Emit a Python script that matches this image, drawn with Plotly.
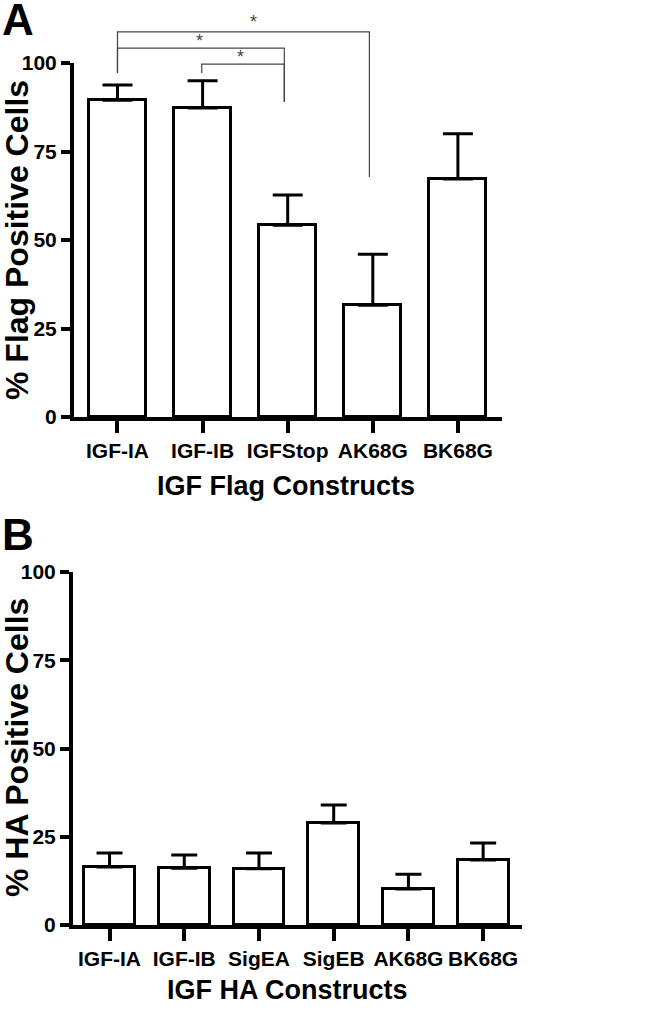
import plotly.graph_objects as go

# Panel A - Flag constructs
flag_labels = ["IGF-IA", "IGF-IB", "IGFStop", "AK68G", "BK68G"]
flag_means = [89.5, 87.3, 54.2, 31.6, 67.2]
flag_err = [4.3, 7.7, 8.5, 14.4, 12.8]

# Panel B - HA constructs
ha_labels = ["IGF-IA", "IGF-IB", "SigEA", "SigEB", "AK68G", "BK68G"]
ha_means = [16.4, 16.1, 15.9, 28.9, 10.2, 18.4]
ha_err = [4.0, 3.7, 4.5, 5.1, 4.2, 4.8]

# significance brackets on panel A (x in category units)
brackets = [
    {"x": [0, 0, 2.96, 2.96], "y": [97.2, 108.8, 108.8, 67.8], "star": (1.6, 111.6)},
    {"x": [0, 0, 1.96, 1.96], "y": [97.2, 104.2, 104.2, 89.0], "star": (0.96, 106.3)},
    {"x": [0.99, 0.99, 1.96, 1.96], "y": [97.2, 99.7, 99.7, 89.0], "star": (1.44, 101.8)},
]

W, H = 650, 1009
FONT = "Liberation Sans, Arial, sans-serif"

# plot areas in pixels
a_x0, a_x1, a_top, a_bot = 74, 502, 63, 417
b_x0, b_x1, b_top, b_bot = 73, 522, 572, 925


def px(x):
    return x / W


def py(y):
    return 1 - y / H


fig = go.Figure()

fig.add_trace(
    go.Bar(
        x=list(range(len(flag_labels))),
        y=flag_means,
        width=0.67,
        marker=dict(color="white", line=dict(color="black", width=3)),
        error_y=dict(type="data", symmetric=False, array=flag_err,
                     arrayminus=[0] * len(flag_err), color="black", thickness=3, width=15),
        xaxis="x", yaxis="y",
    )
)

fig.add_trace(
    go.Bar(
        x=list(range(len(ha_labels))),
        y=ha_means,
        width=0.68,
        marker=dict(color="white", line=dict(color="black", width=3)),
        error_y=dict(type="data", symmetric=False, array=ha_err,
                     arrayminus=[0] * len(ha_err), color="black", thickness=3, width=13),
        xaxis="x2", yaxis="y2",
    )
)

# overlay axis for brackets (same scale as panel A, taller domain)
a_range_x = [-0.511, 4.518]
scale = (py(a_top) - py(a_bot)) / 100
top_range = (1 - py(a_bot)) / scale

for b in brackets:
    fig.add_trace(
        go.Scatter(x=b["x"], y=b["y"], mode="lines",
                   line=dict(color="#444444", width=1.2),
                   xaxis="x3", yaxis="y3", hoverinfo="skip")
    )

annotations = []
for b in brackets:
    sx, sy = b["star"]
    annotations.append(dict(x=sx, y=sy, xref="x3", yref="y3", text="*", showarrow=False,
                            font=dict(family=FONT, size=18, color="#444444"), yanchor="middle"))

tick_font = dict(family=FONT, size=21, color="black", weight="bold")

axis_common = dict(showgrid=False, zeroline=False, showline=True, linecolor="black",
                   linewidth=4, ticks="outside", tickcolor="black", tickwidth=4,
                   tickfont=tick_font, fixedrange=True, automargin=False, tickangle=0)

fig.update_layout(
    width=W, height=H, autosize=False,
    margin=dict(l=0, r=0, t=0, b=0, autoexpand=False),
    paper_bgcolor="white", plot_bgcolor="rgba(0,0,0,0)",
    showlegend=False,
    bargap=0,
    xaxis=dict(axis_common, domain=[px(a_x0), px(a_x1)], range=a_range_x,
               tickvals=list(range(len(flag_labels))), ticktext=flag_labels,
               ticklen=12, anchor="y"),
    yaxis=dict(axis_common, domain=[py(a_bot), py(a_top)], range=[0, 100],
               tickvals=[0, 25, 50, 75, 100], ticklen=9, anchor="x"),
    xaxis2=dict(axis_common, domain=[px(b_x0), px(b_x1)], range=[-0.489, 5.52],
                tickvals=list(range(len(ha_labels))), ticktext=ha_labels,
                ticklen=12, anchor="y2"),
    yaxis2=dict(axis_common, domain=[py(b_bot), py(b_top)], range=[0, 100],
                tickvals=[0, 25, 50, 75, 100], ticklen=9, anchor="x2"),
    xaxis3=dict(domain=[px(a_x0), px(a_x1)], range=a_range_x, visible=False,
                anchor="y3", fixedrange=True),
    yaxis3=dict(domain=[py(a_bot), 1], range=[0, top_range], visible=False,
                anchor="x3", fixedrange=True),
)

title_font = dict(family=FONT, size=27, color="black", weight="bold")
ytitle_font = dict(family=FONT, size=32, color="black", weight="bold")
letter_font = dict(family=FONT, size=44, color="black", weight="bold")

annotations += [
    dict(text="A", x=0, y=py(-7), xref="paper", yref="paper", xanchor="left",
         yanchor="top", showarrow=False, font=letter_font),
    dict(text="B", x=0, y=py(508), xref="paper", yref="paper", xanchor="left",
         yanchor="top", showarrow=False, font=letter_font),
    dict(text="IGF Flag Constructs", x=px(286), y=py(486), xref="paper", yref="paper",
         xanchor="center", yanchor="middle", showarrow=False, font=title_font),
    dict(text="IGF HA Constructs", x=px(287), y=py(990), xref="paper", yref="paper",
         xanchor="center", yanchor="middle", showarrow=False, font=title_font),
    dict(text="% Flag Positive Cells", x=px(17), y=py(240), xref="paper", yref="paper",
         xanchor="center", yanchor="middle", textangle=-90, showarrow=False,
         font=ytitle_font),
    dict(text="% HA Positive Cells", x=px(17), y=py(748), xref="paper", yref="paper",
         xanchor="center", yanchor="middle", textangle=-90, showarrow=False,
         font=ytitle_font),
]

fig.update_layout(annotations=annotations)

fig.write_html(
    "out.html",
    config={"displayModeBar": False},
    post_script="document.body.style.margin='0px';document.body.style.overflow='hidden';",
)
